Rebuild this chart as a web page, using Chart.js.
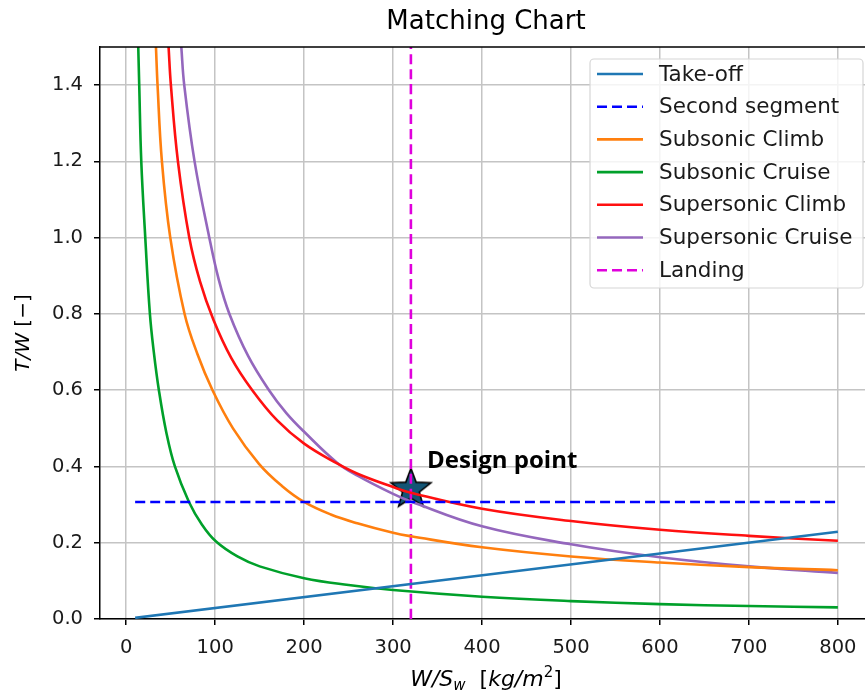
<!DOCTYPE html>
<html>
<head>
<meta charset="utf-8">
<script src="https://cdn.jsdelivr.net/npm/chart.js@4"></script>
<style>
  html, body { margin:0; padding:0; background:#fff; overflow:hidden; }
  #wrap { width:880px; height:693px; }
</style>
</head>
<body>
<div id="wrap"><canvas id="chart" width="880" height="693"></canvas></div>
<script>
// values
const wsTakeoff = [10, 800];
const twTakeoff = [0.003, 0.229];

const wsSecond = [10, 800];
const twSecond = [0.307, 0.307];

const wsSubClimb = [33.4, 35.2, 40.1, 49.5, 65.6, 80, 97, 120, 149.2, 175, 199.9, 230, 259.8, 300, 320, 400, 500, 600, 700, 800];
const twSubClimb = [1.5, 1.4, 1.2, 1.0, 0.8, 0.695, 0.6, 0.5, 0.407, 0.349, 0.307, 0.274, 0.251, 0.226, 0.217, 0.188, 0.164, 0.148, 0.136, 0.128];

const wsSubCruise = [13.5, 14.6, 16.9, 21.4, 26.6, 31, 36.7, 45, 54.7, 70.5, 85, 101, 125, 150, 200, 250, 300, 400, 500, 600, 700, 800];
const twSubCruise = [1.5, 1.4, 1.2, 1.0, 0.8, 0.7, 0.6, 0.49, 0.4, 0.307, 0.248, 0.203, 0.164, 0.138, 0.107, 0.089, 0.076, 0.0585, 0.047, 0.039, 0.034, 0.0306];

const wsSupClimb = [47.6, 50.2, 58.1, 70.9, 83, 98, 118, 141.7, 170, 200, 237, 260, 300, 320, 400, 500, 600, 700, 800];
const twSupClimb = [1.5, 1.4, 1.2, 1.0, 0.885, 0.785, 0.685, 0.6, 0.52, 0.46, 0.408, 0.381, 0.346, 0.331, 0.289, 0.257, 0.234, 0.218, 0.205];

const wsSupCruise = [61.9, 65.2, 76.8, 93.4, 104, 116, 137, 160.5, 180, 200, 237, 260, 300, 320, 400, 500, 600, 700, 800];
const twSupCruise = [1.5, 1.4, 1.2, 1.0, 0.89, 0.8, 0.69, 0.6, 0.54, 0.491, 0.41, 0.376, 0.328, 0.308, 0.243, 0.196, 0.162, 0.138, 0.121];

const wsLanding = [320, 320];
const twLanding = [0, 1.5];

const wsDesign = [320];
const twDesign = [0.34];

const xTicks = [0, 100, 200, 300, 400, 500, 600, 700, 800];
const yTicks = [0.0, 0.2, 0.4, 0.6, 0.8, 1.0, 1.2, 1.4];

function pts(xs, ys){ return xs.map((x,i) => ({x:x, y:ys[i]})); }

// filled star marker
function makeStar(R){
  const c = document.createElement("canvas");
  const s = Math.ceil(R*2+4);
  c.width = s; c.height = s;
  const g = c.getContext("2d");
  const cx = s/2, cy = s/2, r = R*0.42;
  g.beginPath();
  for(let i=0;i<10;i++){
    const a = -Math.PI/2 + i*Math.PI/5;
    const rr = i%2===0 ? R : r;
    const px = cx + rr*Math.cos(a), py = cy + rr*Math.sin(a);
    if(i===0) g.moveTo(px,py); else g.lineTo(px,py);
  }
  g.closePath();
  g.fillStyle = "#135575";
  g.fill();
  g.lineWidth = 1.6;
  g.strokeStyle = "#000";
  g.stroke();
  return c;
}

const series = [
  { label:"Take-off", xs:wsTakeoff, ys:twTakeoff, color:"#1f77b4", dash:[] },
  { label:"Second segment", xs:wsSecond, ys:twSecond, color:"#0000ff", dash:[10,5] },
  { label:"Subsonic Climb", xs:wsSubClimb, ys:twSubClimb, color:"#ff7f0e", dash:[] },
  { label:"Subsonic Cruise", xs:wsSubCruise, ys:twSubCruise, color:"#00a02a", dash:[] },
  { label:"Supersonic Climb", xs:wsSupClimb, ys:twSupClimb, color:"#ff1010", dash:[] },
  { label:"Supersonic Cruise", xs:wsSupCruise, ys:twSupCruise, color:"#9467bd", dash:[] },
  { label:"Landing", xs:wsLanding, ys:twLanding, color:"#e000dc", dash:[10,5] }
];

const datasets = series.map(s => ({
  label: s.label,
  data: pts(s.xs, s.ys),
  showLine: true,
  borderColor: s.color,
  backgroundColor: s.color,
  borderWidth: 2.6,
  borderDash: s.dash,
  pointRadius: 0,
  tension: 0.4
}));

datasets.push({
  label: "Design point",
  data: pts(wsDesign, twDesign),
  showLine: false,
  pointStyle: makeStar(21),
  pointRadius: 21,
  pointHoverRadius: 21
});

const L = 100, R = 873, T = 47, B = 619;

const extras = {
  id: "extras",
  afterDraw(ch){
    const ctx = ch.ctx;
    ctx.save();
    // top / right spines
    ctx.strokeStyle = "#000";
    ctx.lineWidth = 1.5;
    ctx.beginPath();
    ctx.moveTo(L, T); ctx.lineTo(R, T); ctx.lineTo(R, B);
    ctx.stroke();

    // title
    ctx.fillStyle = "#000";
    ctx.font = "26px 'DejaVu Sans'";
    ctx.textAlign = "center";
    ctx.textBaseline = "middle";
    ctx.fillText("Matching Chart", 486, 22);

    // design point label
    ctx.font = "bold 24px 'Open Sans'";
    ctx.textAlign = "left";
    ctx.textBaseline = "middle";
    ctx.fillText("Design point", 427, 461);

    // x axis label: W/S_w  [kg/m^2]
    const fs = 22;
    const it = fs + "px 'DejaVu Sans', sans-serif";
    const itx = "oblique " + fs + "px 'DejaVu Sans', sans-serif";
    const sm = "oblique " + Math.round(fs*0.7) + "px 'DejaVu Sans', sans-serif";
    const smU = Math.round(fs*0.7) + "px 'DejaVu Sans', sans-serif";
    const parts = [
      {t:"W/S", f:itx, dy:0},
      {t:"w", f:sm, dy:4},
      {t:"  ", f:it, dy:0},
      {t:"[", f:it, dy:0},
      {t:"kg/m", f:itx, dy:0},
      {t:"2", f:smU, dy:-9},
      {t:"]", f:it, dy:0}
    ];
    let w = 0;
    parts.forEach(p => { ctx.font = p.f; p.w = ctx.measureText(p.t).width; w += p.w; });
    let x0 = 486 - w/2;
    ctx.textBaseline = "alphabetic";
    parts.forEach(p => { ctx.font = p.f; ctx.fillText(p.t, x0, 686 + p.dy); x0 += p.w; });

    // y axis label
    ctx.translate(29, 333);
    ctx.rotate(-Math.PI/2);
    const yp = [
      {t:"T/W", f:"oblique 20px 'DejaVu Sans'"},
      {t:" [\u2212]", f:"20px 'DejaVu Sans'"}
    ];
    w = 0;
    yp.forEach(p => { ctx.font = p.f; p.w = ctx.measureText(p.t).width; w += p.w; });
    x0 = -w/2;
    yp.forEach(p => { ctx.font = p.f; ctx.fillText(p.t, x0, 0); x0 += p.w; });
    ctx.restore();

    // legend
    ctx.save();
    const bx = 590, by = 59, bw = 273, bh = 229;
    ctx.beginPath();
    ctx.roundRect(bx, by, bw, bh, 4);
    ctx.fillStyle = "rgba(255,255,255,0.82)";
    ctx.fill();
    ctx.strokeStyle = "#d6d6d6";
    ctx.lineWidth = 1.2;
    ctx.stroke();
    ctx.font = "21.5px 'DejaVu Sans'";
    ctx.textBaseline = "middle";
    ctx.textAlign = "left";
    series.forEach((s, i) => {
      const yy = 74 + i*32.7;
      ctx.strokeStyle = s.color;
      ctx.lineWidth = 2.6;
      ctx.setLineDash(s.dash);
      ctx.beginPath();
      ctx.moveTo(597, yy); ctx.lineTo(643, yy);
      ctx.stroke();
      ctx.setLineDash([]);
      ctx.fillStyle = "#1a1a1a";
      ctx.fillText(s.label, 659, yy + 1);
    });
    ctx.restore();
  }
};

new Chart(document.getElementById("chart"), {
  type: "scatter",
  data: { datasets: datasets },
  options: {
    responsive: false,
    animation: false,
    events: [],
    layout: { autoPadding: false, padding: { top: T, right: 880 - R, left: 0, bottom: 0 } },
    plugins: { legend: { display:false }, tooltip: { enabled:false }, title: { display:false } },
    scales: {
      x: {
        type: "linear",
        min: -29.5, max: 839.5,
        afterFit: s => { s.height = 693 - B; s.paddingLeft = 0; s.paddingRight = 0; },
        afterBuildTicks: s => { s.ticks = xTicks.map(v => ({value:v})); },
        ticks: { includeBounds:false, color:"#1a1a1a", font:{ family:"DejaVu Sans", size:19.5 }, padding:11, maxRotation:0 },
        grid: { color:"#c4c4c4", lineWidth:1.5, tickColor:"#000", tickLength:6, tickWidth:1.5 },
        border: { color:"#000", width:1.5 }
      },
      y: {
        type: "linear",
        min: 0, max: 1.5,
        afterFit: s => { s.width = L; s.paddingTop = 0; s.paddingBottom = 0; },
        afterBuildTicks: s => { s.ticks = yTicks.map(v => ({value:v})); },
        ticks: { includeBounds:false, color:"#1a1a1a", font:{ family:"DejaVu Sans", size:19.5 }, padding:11,
                 callback: v => v.toFixed(1) },
        grid: { color:"#c4c4c4", lineWidth:1.5, tickColor:"#000", tickLength:6, tickWidth:1.5 },
        border: { color:"#000", width:1.5 }
      }
    }
  },
  plugins: [extras]
});
</script>
</body>
</html>
